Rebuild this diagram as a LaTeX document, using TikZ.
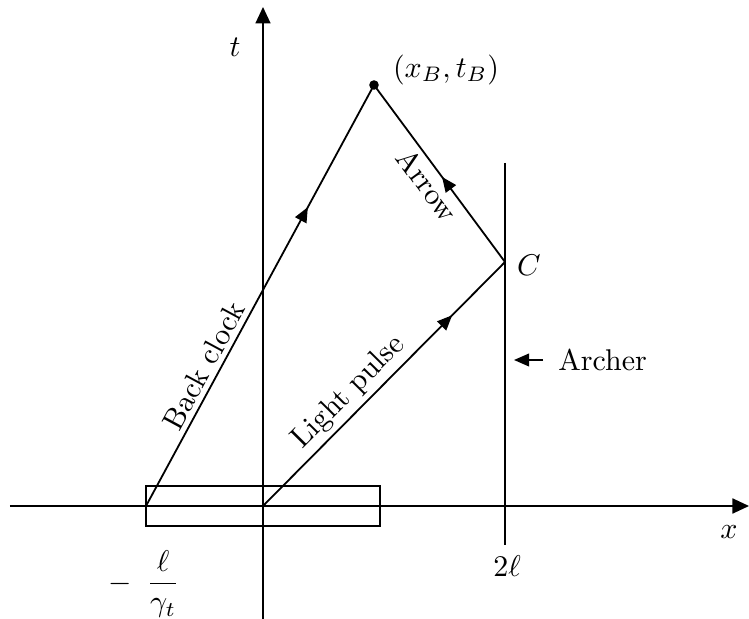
\documentclass[tikz,border=0pt]{standalone}
\usetikzlibrary{arrows.meta,decorations.markings}
\begin{document}
\begin{tikzpicture}[x=0.3333pt,y=-0.3333pt,
  line width=0.6pt,
  axis/.style={-{Triangle[length=5.5pt,width=5pt]}},
  midarrow/.style={postaction={decorate},decoration={markings,
     mark=at position #1 with {\arrow{Triangle[length=5pt,width=4.2pt]}}}},
  midback/.style={postaction={decorate},decoration={markings,
     mark=at position #1 with {\arrowreversed{Triangle[length=5pt,width=4.2pt]}}}},
  lbl/.style={inner sep=1.5pt}]
\useasboundingbox (0,0) rectangle (749,619);
% coordinates
\coordinate (xL) at (10,506);
\coordinate (xR) at (749,506);
\coordinate (tB) at (263,619);
\coordinate (tT) at (263,7);
\coordinate (O) at (263,506);
\coordinate (B0) at (146,506);
\coordinate (C) at (505,262);
\coordinate (V1) at (505,163);
\coordinate (V2) at (505,545);
\coordinate (arS) at (543,360);
\coordinate (arE) at (514,360);
% axes
\draw[axis] (xL) -- (xR);
\draw[axis] (tB) -- (tT);
\node[lbl] (tlab) at (235,47) {$t$};
\node[lbl] (xlab) at (729,532) {$x$};
% bar
\node[draw,minimum width=78pt,minimum height=13.3pt,inner sep=0pt] (bar) at (263,506) {};
% event
\node[circle,fill,inner sep=0pt,minimum size=3.2pt] (D) at (374,85) {};
\node[lbl] (Dlab) at (446,70) {$(x_B,t_B)$};
% vertical world line
\draw (V1) -- (V2);
\node[lbl] (Clab) at (529,265) {$C$};
\node[lbl] (twol) at (507,566) {$2\ell$};
\node[lbl] (gam) at (144,584) {$-\hspace{5pt}\displaystyle\frac{\ell}{\gamma_t}$};
% lines
\draw[midarrow=0.71] (B0) -- (D.center) node[lbl,above,sloped,pos=0.315] {Back clock};
\draw[midarrow=0.785] (O) -- (C) node[lbl,above,sloped,pos=0.41] {Light pulse};
\draw[midback=0.52] (D.center) -- (C) node[lbl,below,sloped,pos=0.51] {Arrow};
% archer
\draw[-{Triangle[length=5pt,width=4.2pt]}] (arS) -- (arE);
\node[lbl,anchor=west] (arch) at (553,360) {Archer};
\end{tikzpicture}
\end{document}
